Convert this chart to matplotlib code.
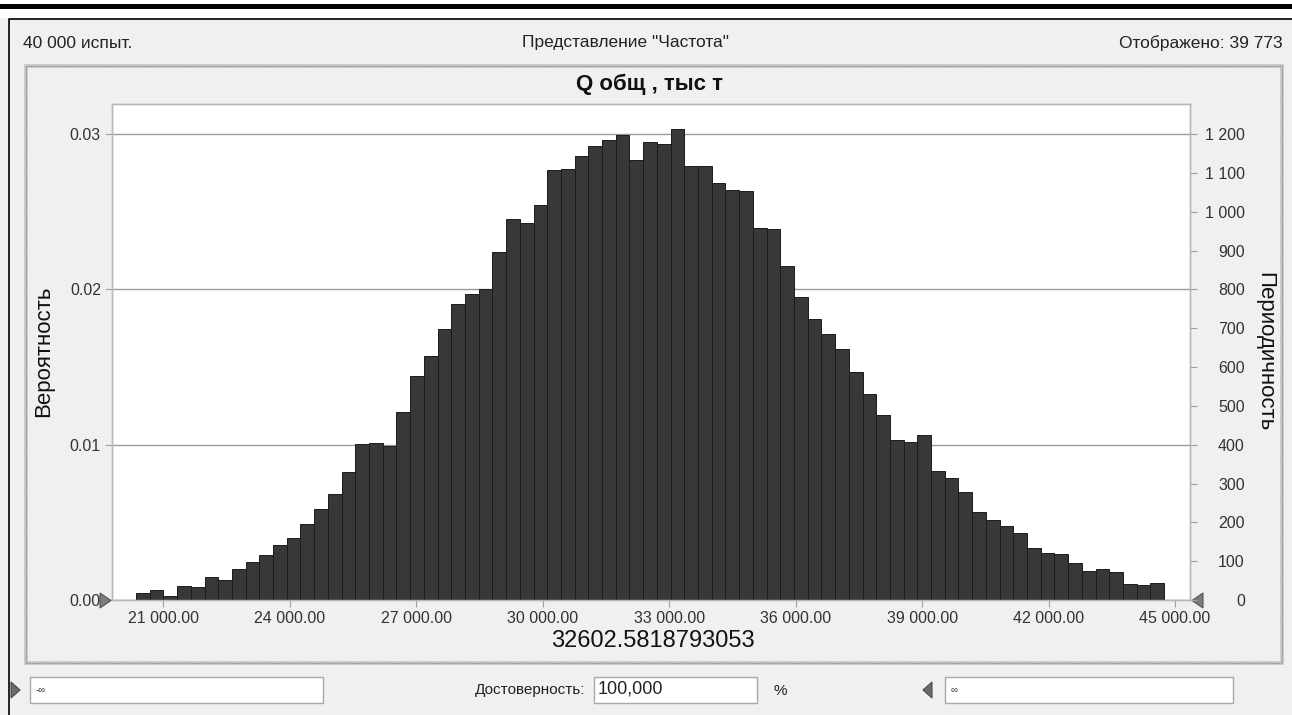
import matplotlib
matplotlib.use('Agg')
import matplotlib.pyplot as plt
from matplotlib.patches import Rectangle, Polygon

plt.rcParams['font.family'] = ['Liberation Sans', 'DejaVu Sans']

# data
trials = 40000
shown = 39773
mean_value = 32602.5818793053
bin_start = 20352
bin_width = 325.2
counts = [17, 27, 10, 36, 33, 58, 51, 79, 98, 115,
          141, 160, 196, 235, 273, 330, 402, 404, 396, 483,
          577, 628, 697, 762, 788, 802, 896, 981, 972, 1017,
          1108, 1111, 1143, 1169, 1186, 1197, 1133, 1179, 1175, 1212,
          1117, 1117, 1075, 1056, 1053, 959, 955, 859, 780, 724,
          684, 647, 587, 531, 476, 412, 406, 425, 331, 313,
          277, 226, 206, 191, 173, 135, 122, 118, 96, 75,
          79, 72, 41, 38, 45]
x_ticks = [21000, 24000, 27000, 30000, 33000, 36000, 39000, 42000, 45000]
prob_ticks = [0.0, 0.01, 0.02, 0.03]
count_ticks = list(range(0, 1201, 100))
x_range = (19783, 45356)
count_top = 1277.5

W, H = 1292, 715
fig = plt.figure(figsize=(W / 100, H / 100), dpi=100, facecolor='#f0f0f0')

# window chrome in pixel coordinates
ui = fig.add_axes([0, 0, 1, 1])
ui.set_xlim(0, W)
ui.set_ylim(H, 0)
ui.axis('off')
ui.add_patch(Rectangle((0, 0), W, 18, color='white', lw=0))
ui.add_patch(Rectangle((0, 4), W, 4.5, color='black', lw=0))
ui.plot([9, 9, W], [H, 18.5, 18.5], color='black', lw=1.2)

# dotted panel border
ui.add_patch(Rectangle((26, 66), 1256, 597, fill=False, ec='#c4c4c4', lw=2.6))
ui.add_patch(Rectangle((26, 66), 1256, 597, fill=False, ec='#8c8c8c', lw=0.8,
                       ls=(0, (1, 1))))

ui.text(23, 43, f'{trials:,} испыт.'.replace(',', ' '), fontsize=12.5,
        ha='left', va='center', color='#222222')
ui.text(626, 43, 'Представление "Частота"', fontsize=12.5,
        ha='center', va='center', color='#222222')
ui.text(1283, 43, f'Отображено: {shown:,}'.replace(',', ' '), fontsize=12.5,
        ha='right', va='center', color='#222222')
ui.text(650, 84, 'Q общ , тыс т', fontsize=16, fontweight='bold',
        ha='center', va='center', color='#111111')
ui.text(44, 351, 'Вероятность', fontsize=16, rotation=90,
        ha='center', va='center', color='#111111')
ui.text(1265, 352, 'Периодичность', fontsize=16, rotation=270,
        ha='center', va='center', color='#111111')

# bottom controls
ui.add_patch(Polygon([[11, 682], [20, 690], [11, 698]], closed=True,
                     fc='#6a6a6a', ec='#4a4a4a', lw=0.8))
ui.add_patch(Rectangle((30, 677), 293, 26, fc='white', ec='#a8a8a8', lw=1))
ui.text(36, 690, '-∞', fontsize=7, ha='left', va='center', color='#333333')
ui.text(585, 690, 'Достоверность:', fontsize=11, ha='right', va='center',
        color='#222222')
ui.add_patch(Rectangle((594, 677), 163, 26, fc='white', ec='#a8a8a8', lw=1))
ui.text(598, 689, '100,000', fontsize=13, ha='left', va='center', color='#222222')
ui.text(780, 691, '%', fontsize=11, ha='center', va='center', color='#222222')
ui.add_patch(Polygon([[932, 682], [923, 690], [932, 698]], closed=True,
                     fc='#6a6a6a', ec='#4a4a4a', lw=0.8))
ui.add_patch(Rectangle((945, 677), 288, 26, fc='white', ec='#a8a8a8', lw=1))
ui.text(951, 690, '∞', fontsize=7, ha='left', va='center', color='#333333')

# histogram area
ax = fig.add_axes([112 / W, (H - 600) / H, (1190 - 112) / W, (600 - 104) / H])
ax.set_facecolor('white')
ax.set_xlim(*x_range)
ax.set_ylim(0, count_top / trials)
ax.set_yticks(prob_ticks)
ax.set_yticklabels([f'{p:.2f}' for p in prob_ticks])
ax.yaxis.grid(True, color='#9a9a9a', lw=1.0)
ax.set_axisbelow(True)
ax.set_xticks(x_ticks)
ax.set_xticklabels([f'{v:,.2f}'.replace(',', ' ') for v in x_ticks])
ax.tick_params(axis='both', length=5, width=0.8, color='#a0a0a0',
               labelsize=11.5, labelcolor='#333333', pad=3)

ax2 = ax.twinx()
ax2.set_ylim(0, count_top)
ax2.set_yticks(count_ticks)
ax2.set_yticklabels([f'{c:,}'.replace(',', ' ') for c in count_ticks],
                    ha='right')
ax2.tick_params(axis='y', length=5, width=0.8, color='#a0a0a0',
                labelsize=11.5, labelcolor='#333333', pad=34.5)
lefts = [bin_start + i * bin_width for i in range(len(counts))]
ax2.bar(lefts, counts, width=bin_width, align='edge',
        color='#383838', edgecolor='#1c1c1c', lw=0.7)

for a in (ax, ax2):
    for s in a.spines.values():
        s.set_color('#b8b8b8')
        s.set_linewidth(1.0)

# mean value under the axis
ax.text(mean_value, -0.083, f'{mean_value}', transform=ax.get_xaxis_transform(),
        fontsize=17, ha='center', va='center', color='#111111')

# grab handles at the ends of the axis
ax2.add_patch(Polygon([[100, 593], [111, 600.5], [100, 608]], closed=True,
                      fc='#7c7c7c', ec='#555555', lw=0.8,
                      transform=ui.transData, clip_on=False))
ax2.add_patch(Polygon([[1203, 593], [1192, 600.5], [1203, 608]], closed=True,
                      fc='#7c7c7c', ec='#555555', lw=0.8,
                      transform=ui.transData, clip_on=False))

fig.savefig('out.png', dpi=100, facecolor=fig.get_facecolor())
